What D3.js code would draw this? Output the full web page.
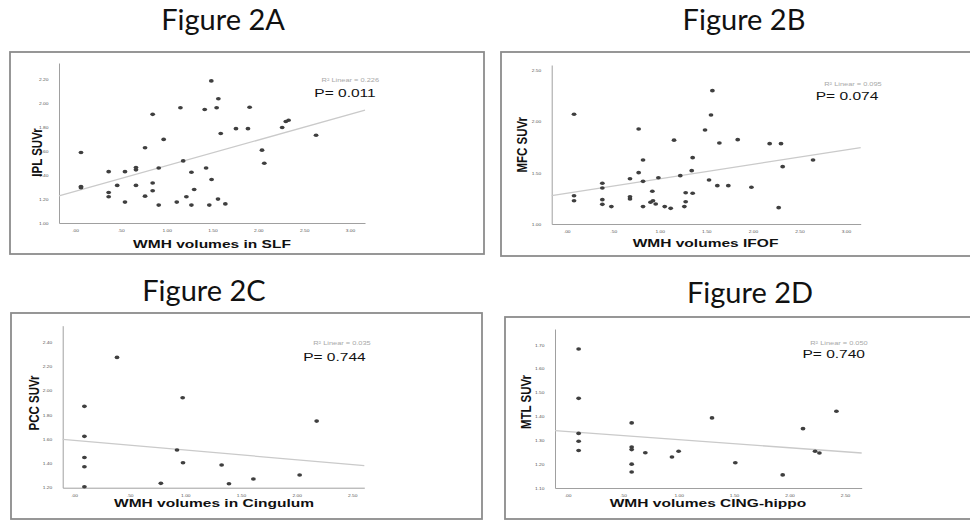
<!DOCTYPE html>
<html>
<head>
	<meta charset="utf-8">
	<title>figure 2</title>
	<script type="text/javascript" src="https://cdn.jsdelivr.net/npm/d3@7/dist/d3.min.js"></script>
	<style type="text/css">
		body{margin:0;background:#fff;}
		.title{font-family:Lato,"Open Sans",sans-serif;font-size:29px;fill:#111;}
		.chart text{font-family:"Liberation Sans",Arial,sans-serif;}
	</style>
</head>
<body>
	<script type="text/javascript">
		// data
		var titles=["Figure 2A","Figure 2B","Figure 2C","Figure 2D"];
		var yLabels=["IPL SUVr","MFC SUVr","PCC SUVr","MTL SUVr"];
		var xLabels=["WMH volumes in SLF","WMH volumes IFOF","WMH volumes in Cingulum","WMH volumes CING-hippo"];
		var r2Values=["0.226","0.095","0.035","0.050"];
		var pValues=["0.011","0.074","0.744","0.740"];
		// fit line: intercept, slope
		var fitA=[1.265,0.215],
			fitB=[1.30,0.1416],
			fitC=[1.591,-0.0801],
			fitD=[1.3367,-0.0339];

		var xTicksA=[0,0.5,1,1.5,2,2.5,3],
			yTicksA=[1.0,1.2,1.4,1.6,1.8,2.0,2.2];
		var xTicksB=[0,0.5,1,1.5,2,2.5,3],
			yTicksB=[1.0,1.5,2.0,2.5];
		var xTicksC=[0,0.5,1,1.5,2,2.5],
			yTicksC=[1.2,1.4,1.6,1.8,2.0,2.2,2.4];
		var xTicksD=[0,0.5,1,1.5,2,2.5],
			yTicksD=[1.1,1.2,1.3,1.4,1.5,1.6,1.7];

		var xA=[0.065,0.065,0.065,0.367,0.367,0.367,0.46,0.545,0.545,0.665,0.665,0.665,0.764,0.764,0.847,0.847,0.847,0.913,0.913,0.967,1.11,1.15,1.18,1.215,1.27,1.27,1.30,1.415,1.43,1.465,1.487,1.49,1.545,1.564,1.56,1.59,1.64,1.756,1.887,1.905,2.04,2.065,2.26,2.30,2.33,2.63];
		var yA=[1.59,1.305,1.295,1.43,1.255,1.22,1.315,1.43,1.175,1.465,1.445,1.315,1.63,1.225,1.91,1.335,1.27,1.46,1.15,1.70,1.175,1.965,1.52,1.22,1.425,1.15,1.28,1.95,1.46,1.15,2.19,1.364,1.965,2.04,1.20,1.75,1.16,1.79,1.79,1.97,1.61,1.50,1.80,1.85,1.86,1.735];

		var xB=[0.079,0.079,0.079,0.383,0.383,0.383,0.383,0.48,0.68,0.68,0.68,0.773,0.773,0.82,0.82,0.82,0.90,0.92,0.927,0.956,0.985,1.053,1.117,1.153,1.22,1.264,1.278,1.278,1.343,1.353,1.353,1.486,1.529,1.55,1.565,1.618,1.64,1.736,1.837,1.984,2.18,2.277,2.302,2.32,2.646];
		var yB=[2.073,1.277,1.228,1.398,1.352,1.238,1.192,1.17,1.443,1.267,1.245,1.929,1.502,1.626,1.417,1.17,1.212,1.32,1.228,1.196,1.453,1.17,1.153,1.82,1.473,1.17,1.306,1.218,1.522,1.649,1.30,1.919,1.43,2.066,2.304,1.375,1.792,1.375,1.825,1.359,1.786,1.16,1.786,1.561,1.626];

		var xC=[0.093,0.093,0.093,0.093,0.093,0.386,0.78,0.925,0.976,0.979,1.326,1.392,1.611,2.027,2.18];
		var yC=[1.872,1.624,1.45,1.373,1.208,2.276,1.236,1.511,1.943,1.406,1.387,1.233,1.272,1.305,1.75];

		var xD=[0.099,0.099,0.099,0.099,0.099,0.577,0.577,0.577,0.577,0.577,0.70,0.94,1.0,1.301,1.511,1.938,2.121,2.23,2.269,2.422];
		var yD=[1.683,1.476,1.329,1.296,1.257,1.373,1.272,1.261,1.20,1.167,1.248,1.23,1.254,1.394,1.206,1.155,1.349,1.254,1.247,1.422];

		var width=970,
			height=520,
			sx=1.35;	//the pasted charts are stretched sideways

		// layout of each pasted SPSS chart
		var panels=[
			{frame:[10,52,484,254], px:[59,365], py:[223,63], xd:[-0.175,3.164], yd:[1.0,2.34],
				title:[223,29.5], yl:[41.7,152.5], xl:[212,247.7], r2:[379,82.3], p:[375.7,97],
				xs:xA, ys:yA, fit:fitA, xt:xTicksA, yt:yTicksA},
			{frame:[501,52,972,256], px:[551.7,860.7], py:[224,65], xd:[-0.161,3.158], yd:[1.0,2.555],
				title:[744,29.5], yl:[526.7,144.7], xl:[705.5,246.7], r2:[881.7,85.7], p:[878.3,100],
				xs:xB, ys:yB, fit:fitB, xt:xTicksB, yt:yTicksB},
			{frame:[11,313,482,519], px:[62.7,364.3], py:[487.7,325.7], xd:[-0.102,2.608], yd:[1.2,2.538],
				title:[204,301], yl:[39.3,403], xl:[214,506.7], r2:[370.7,345], p:[365.7,361],
				xs:xC, ys:yC, fit:fitC, xt:xTicksC, yt:yTicksC},
			{frame:[505,317,972,519], px:[555,861.7], py:[488,329], xd:[-0.114,2.65], yd:[1.1,1.767],
				title:[750,302.7], yl:[531,402], xl:[708,506.7], r2:[867.7,345], p:[865,358.3],
				xs:xD, ys:yD, fit:fitD, xt:xTicksD, yt:yTicksD}
		];

		var svg=d3.select("body")
				.append("svg")
				.attr("width", width)
				.attr("height", height);

		var fmt=function (d) {
			return d3.format(".2f")(d).replace(/^0\./, ".");
		};

		for (var i = 0; i < panels.length; i++) {
			drawPanel(panels[i], i);
		}

		function drawPanel(pn, i) {
			svg.append("text")
				.attr("class", "title")
				.attr("x", pn.title[0])
				.attr("y", pn.title[1])
				.attr("text-anchor", "middle")
				.text(titles[i]);

			var g=svg.append("g").attr("class", "chart");
			g.append("rect")
				.attr("x", pn.frame[0])
				.attr("y", pn.frame[1])
				.attr("width", pn.frame[2]-pn.frame[0])
				.attr("height", pn.frame[3]-pn.frame[1])
				.attr("fill", "none")
				.attr("stroke", "#8c8c8c")
				.attr("stroke-width", 1.8);

			var x=d3.scaleLinear().domain(pn.xd).range(pn.px);
			var y=d3.scaleLinear().domain(pn.yd).range(pn.py);

			var xAxis=g.append("g")
				.attr("transform", "translate(0," + pn.py[0] + ")")
				.call(d3.axisBottom(x).tickValues(pn.xt).tickFormat(fmt).tickSize(0).tickSizeOuter(0).tickPadding(6.5));
			var yAxis=g.append("g")
				.attr("transform", "translate(" + pn.px[0] + ",0)")
				.call(d3.axisLeft(y).tickValues(pn.yt).tickFormat(fmt).tickSize(0).tickSizeOuter(0));
			g.selectAll(".domain")
				.attr("stroke", "#a0a0a0")
				.attr("stroke-width", 1);
			xAxis.selectAll("text")
				.attr("font-size", 3.6)
				.attr("fill", "#555")
				.attr("transform", "scale(" + sx + ",1)");
			yAxis.selectAll("text")
				.attr("font-size", 3.6)
				.attr("fill", "#555")
				.attr("x", -10.5/sx)
				.attr("transform", "scale(" + sx + ",1)");

			// fit line
			g.append("line")
				.attr("x1", x(pn.xd[0]))
				.attr("y1", y(pn.fit[0]+pn.fit[1]*pn.xd[0]))
				.attr("x2", x(pn.xd[1]))
				.attr("y2", y(pn.fit[0]+pn.fit[1]*pn.xd[1]))
				.attr("stroke", "#cacaca")
				.attr("stroke-width", 1.3);

			g.selectAll("ellipse")
				.data(pn.xs)
				.enter()
				.append("ellipse")
				.attr("cx", function (d) {
					return x(d);
				})
				.attr("cy", function (d, j) {
					return y(pn.ys[j]);
				})
				.attr("rx", 2.4)
				.attr("ry", 1.8)
				.attr("fill", "#3f3f3f");

			g.append("text")
				.attr("transform", "translate(" + pn.yl[0] + "," + pn.yl[1] + ") scale(" + sx + ",1) rotate(-90)")
				.attr("text-anchor", "middle")
				.attr("font-size", 11.5)
				.attr("font-weight", "bold")
				.attr("fill", "#111")
				.text(yLabels[i]);
			g.append("text")
				.attr("transform", "translate(" + pn.xl[0] + "," + pn.xl[1] + ") scale(" + sx + ",1)")
				.attr("text-anchor", "middle")
				.attr("font-size", 11.5)
				.attr("font-weight", "bold")
				.attr("fill", "#111")
				.text(xLabels[i]);
			g.append("text")
				.attr("transform", "translate(" + pn.r2[0] + "," + pn.r2[1] + ") scale(" + sx + ",1)")
				.attr("text-anchor", "end")
				.attr("font-size", 5.5)
				.attr("fill", "#a8a8a8")
				.text("R² Linear = " + r2Values[i]);
			g.append("text")
				.attr("transform", "translate(" + pn.p[0] + "," + pn.p[1] + ") scale(" + sx + ",1)")
				.attr("text-anchor", "end")
				.attr("font-size", 11.5)
				.attr("fill", "#111")
				.text("P= " + pValues[i]);
		}
	</script>
</body>
</html>
